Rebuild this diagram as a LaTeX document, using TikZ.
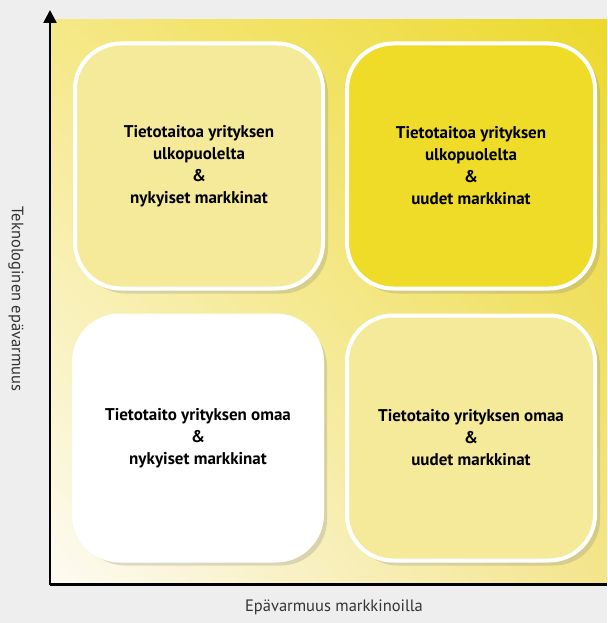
\documentclass[tikz,border=0pt]{standalone}
\usepackage{fontspec}
\setmainfont{PT Sans}
\usetikzlibrary{shadows,shadings,arrows.meta}

\definecolor{bggray}{HTML}{EEEEEE}
\definecolor{paleyellow}{HTML}{F5EA99}
\definecolor{deepyellow}{HTML}{EEDC28}
\definecolor{panelul}{HTML}{F5E887}
\definecolor{panelur}{HTML}{ECD92A}
\definecolor{panelll}{HTML}{FDFBF3}
\definecolor{panellr}{HTML}{F3E58C}

\begin{document}
\begin{tikzpicture}[x=1pt,y=-1pt,
    box/.style={draw=white, line width=4pt, rounded corners=46pt,
      minimum width=248pt, minimum height=245pt, align=center,
      font=\bfseries\fontsize{17}{22}\selectfont,
      drop shadow={opacity=0.25, shadow xshift=5pt, shadow yshift=-5pt}},
    axislabel/.style={font=\fontsize{16.5}{18}\selectfont, text=black!80}
  ]
    \useasboundingbox (0,0) rectangle (607,623);
    \fill[bggray] (0,0) rectangle (607,623);

    \shade[upper left=panelul, upper right=panelur,
           lower left=panelll, lower right=panellr]
    (51,20) rectangle (607,583);

    % quadrants
    \node[box, fill=paleyellow] (tl) at (199,166)
      {Tietotaitoa yrityksen\\ulkopuolelta\\\&\\nykyiset markkinat};
    \node[box, fill=deepyellow] (tr) at (471,166)
      {Tietotaitoa yrityksen\\ulkopuolelta\\\&\\uudet markkinat};
    \node[box, fill=white] (bl) at (198,438)
      {Tietotaito yrityksen omaa\\\&\\nykyiset markkinat};
    \node[box, fill=paleyellow] (br) at (471,438)
      {Tietotaito yrityksen omaa\\\&\\uudet markkinat};

    % axes
    \coordinate (origin) at (50,584.5);
    \coordinate (ytop) at (50,10);
    \coordinate (xend) at (607,584.5);
    \draw[line width=2.5pt, -{Triangle[width=13pt,length=13pt]}] (origin) -- (ytop);
    \draw[line width=2.5pt] (origin) -- (xend);

    \node[axislabel] (xlabel) at (334,607) {Epävarmuus markkinoilla};
    \node[axislabel, rotate=-90] (ylabel) at (16,299) {Teknologinen epävarmuus};
\end{tikzpicture}
\end{document}
